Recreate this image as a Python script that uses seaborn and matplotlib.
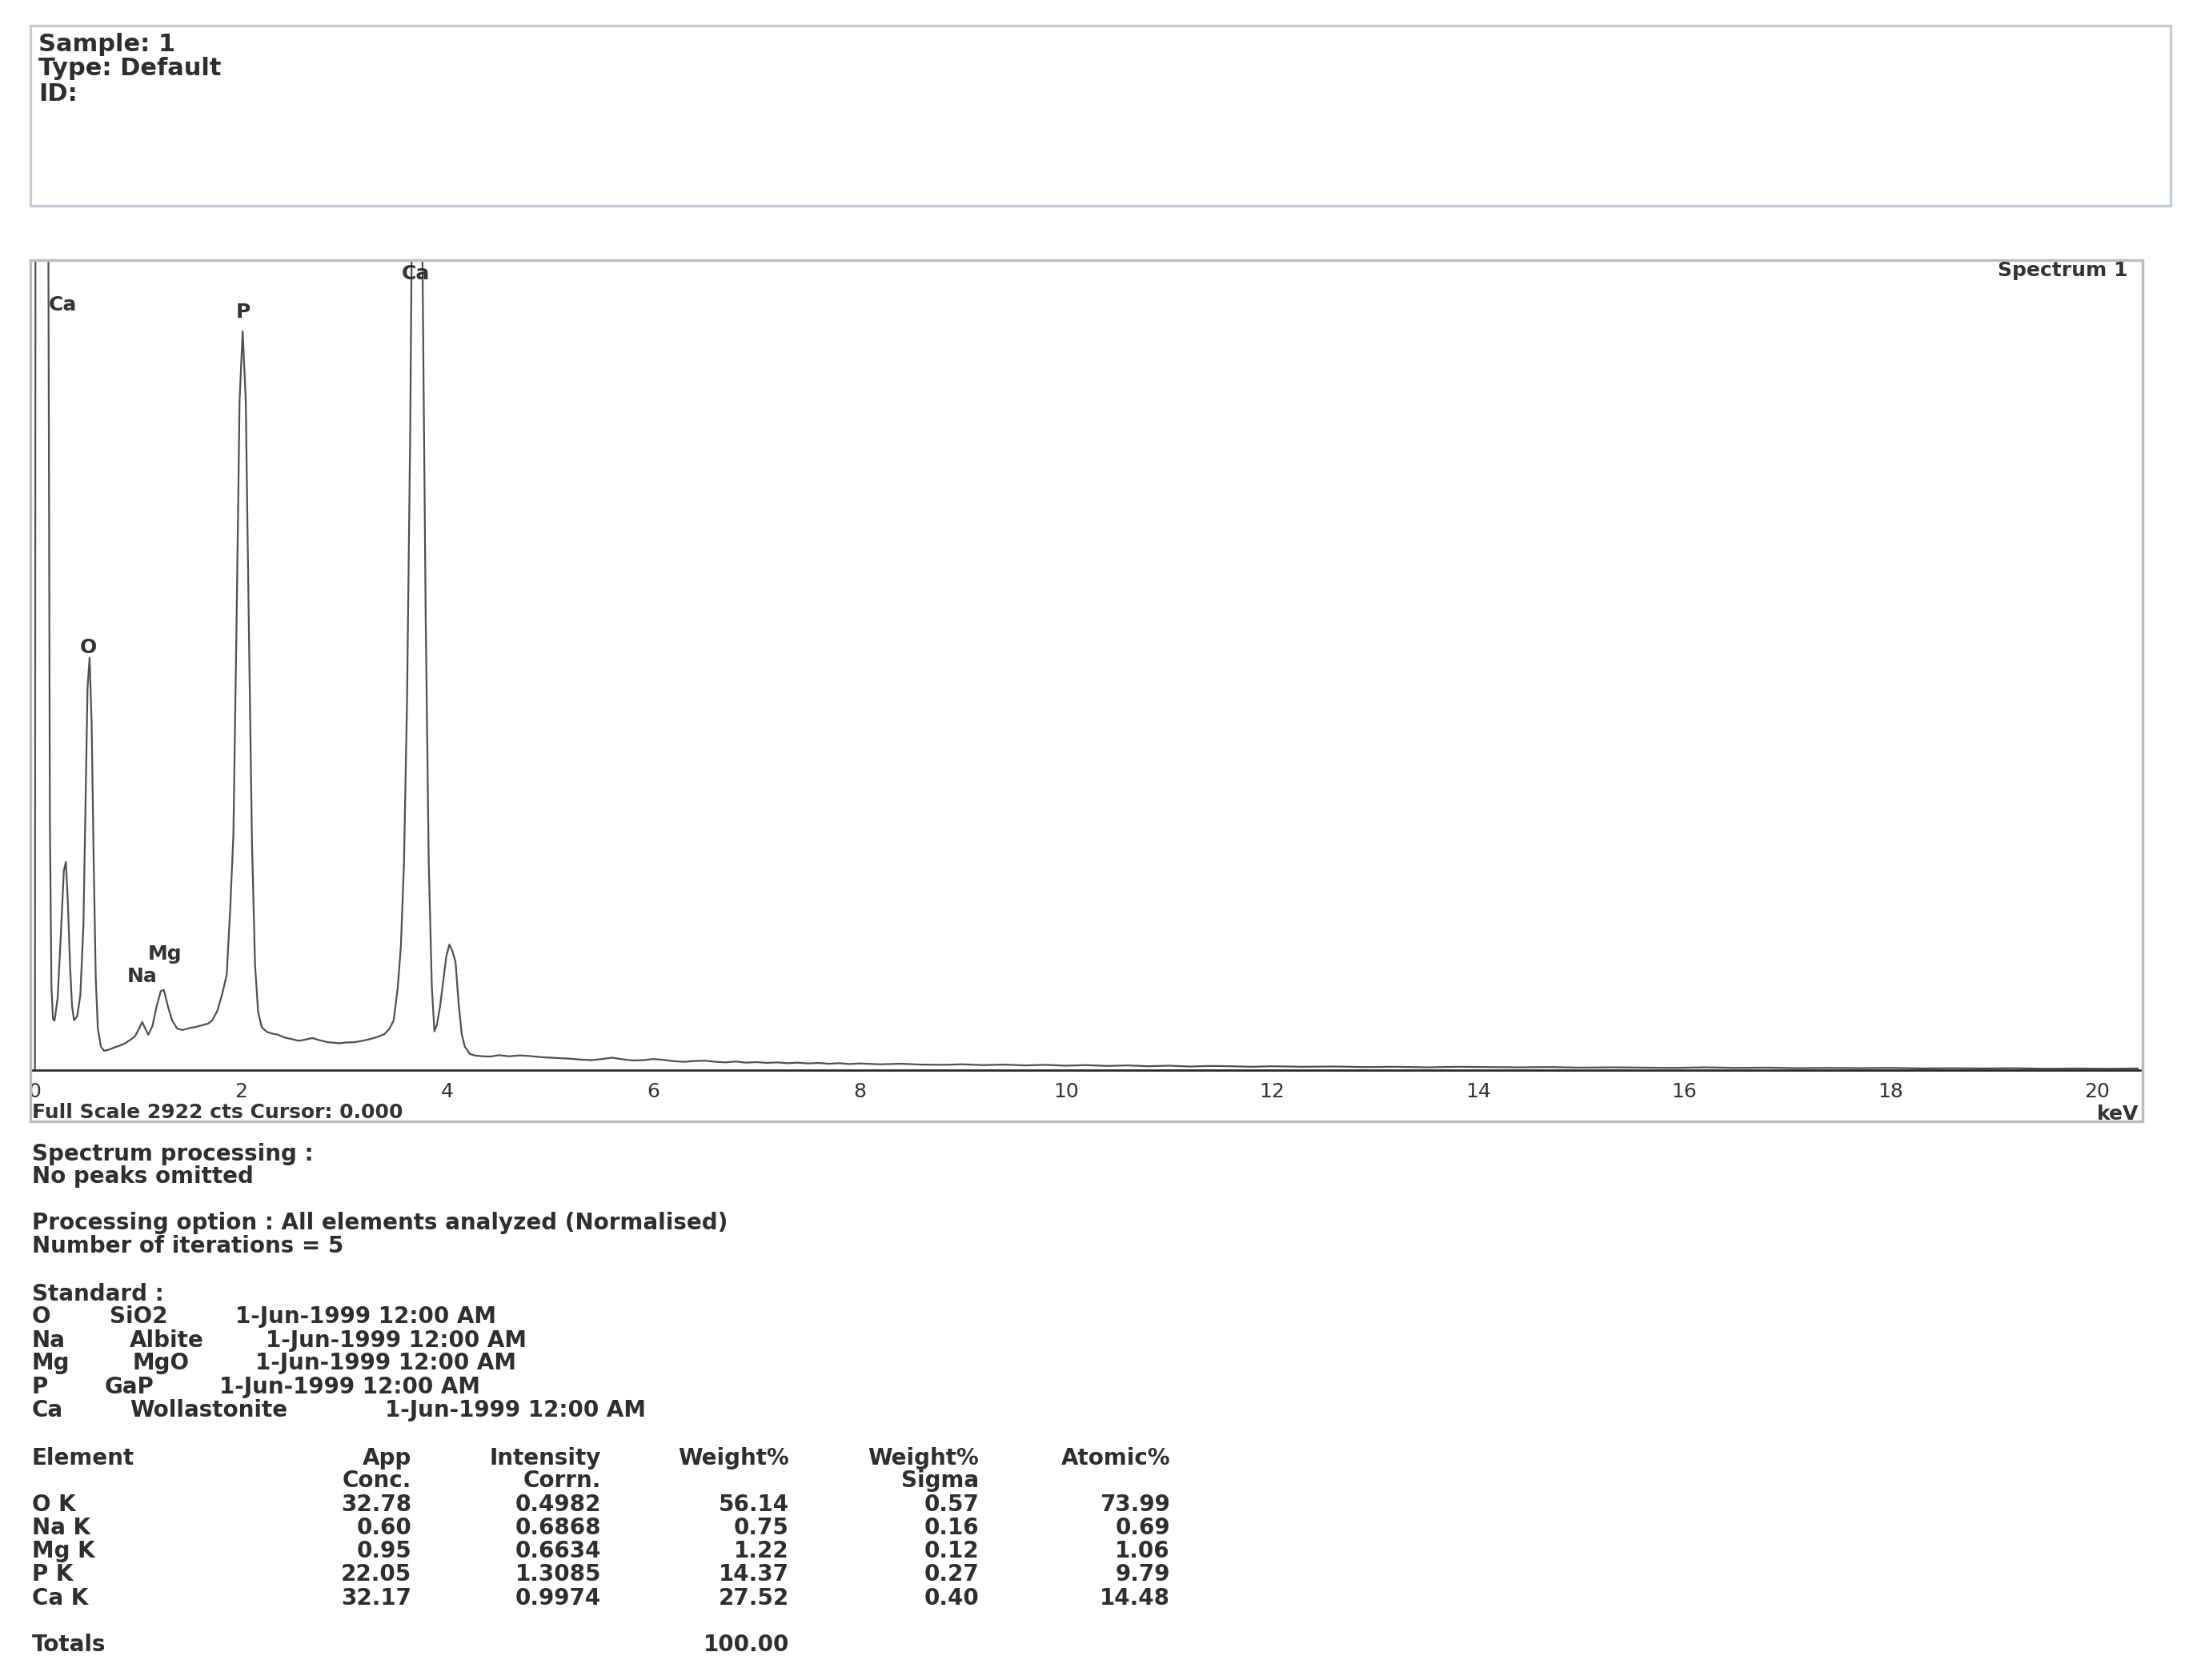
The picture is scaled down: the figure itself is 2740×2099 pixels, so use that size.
import matplotlib
matplotlib.use('Agg')
import matplotlib.pyplot as plt
import seaborn as sns
from matplotlib.patches import Rectangle
from matplotlib.ticker import MultipleLocator

# Spectrum trace: energy (keV) and counts
kev_low = [0.000, 0.010, 0.060, 0.110, 0.130, 0.145, 0.160, 0.175, 0.190, 0.220,
           0.250, 0.280, 0.300, 0.320, 0.340, 0.360, 0.380, 0.410, 0.440, 0.470,
           0.490, 0.510, 0.530, 0.550, 0.570, 0.590, 0.610, 0.640, 0.670, 0.720,
           0.770, 0.820, 0.870, 0.920, 0.970, 1.010, 1.040, 1.070, 1.100, 1.140,
           1.180, 1.220, 1.250, 1.290, 1.330, 1.380, 1.430, 1.500, 1.560, 1.620,
           1.680, 1.720, 1.770, 1.820, 1.860, 1.895, 1.925, 1.955, 1.985, 2.015,
           2.045, 2.075, 2.105, 2.135, 2.165, 2.200, 2.250, 2.300, 2.350, 2.420,
           2.480, 2.560, 2.620, 2.690, 2.760, 2.840, 2.900, 2.950, 3.020, 3.100,
           3.180, 3.260, 3.330, 3.390, 3.440, 3.480, 3.520, 3.550, 3.580, 3.610,
           3.640, 3.670, 3.700, 3.730, 3.760, 3.790, 3.820, 3.850, 3.875, 3.900,
           3.930, 3.960, 3.990, 4.020, 4.050, 4.080, 4.110, 4.140, 4.170, 4.220,
           4.280, 4.350, 4.420]
cts_low = [0, 6000, 9000, 6000, 3000, 900, 300, 185, 178, 260,
           480, 720, 752, 600, 380, 230, 180, 195, 270, 520,
           950, 1380, 1490, 1250, 750, 330, 150, 85, 70, 74,
           82, 88, 96, 108, 122, 150, 174, 150, 128, 160,
           230, 285, 290, 230, 180, 150, 145, 152, 156, 162,
           168, 180, 215, 280, 345, 590, 850, 1600, 2420, 2670,
           2420, 1600, 830, 380, 210, 155, 138, 132, 129, 118,
           113, 106, 110, 116, 108, 101, 99, 97, 100, 101,
           106, 113, 121, 130, 150, 180, 300, 450, 750, 1350,
           2300, 3700, 4700, 4200, 2900, 1650, 750, 300, 140, 165,
           231, 320, 410, 454, 430, 390, 240, 130, 85, 58,
           52, 50, 49]
kev_high = [4.50, 4.60, 4.70, 4.80, 4.90, 5.00, 5.10, 5.20, 5.30, 5.40,
            5.50, 5.60, 5.70, 5.80, 5.90, 6.00, 6.10, 6.20, 6.30, 6.40,
            6.50, 6.60, 6.70, 6.80, 6.90, 7.00, 7.10, 7.20, 7.30, 7.40,
            7.50, 7.60, 7.70, 7.80, 7.90, 8.00, 8.20, 8.40, 8.60, 8.80,
            9.00, 9.20, 9.40, 9.60, 9.80, 10.0, 10.2, 10.4, 10.6, 10.8,
            11.0, 11.2, 11.4, 11.6, 11.8, 12.0, 12.3, 12.6, 12.9, 13.2,
            13.5, 13.8, 14.1, 14.4, 14.7, 15.0, 15.3, 15.6, 15.9, 16.2,
            16.5, 16.8, 17.1, 17.4, 17.7, 18.0, 18.3, 18.6, 18.9, 19.2,
            19.5, 19.8, 20.1, 20.4]
cts_high = [54, 50, 53, 51, 47, 45, 43, 41, 38, 36,
            40, 45, 39, 35, 36, 40, 37, 32, 30, 33,
            34, 30, 28, 31, 27, 29, 26, 28, 25, 27,
            24, 26, 23, 25, 22, 24, 21, 23, 20, 19,
            21, 18, 20, 17, 19, 16, 18, 15, 17, 14,
            16, 13, 15, 14, 12, 14, 12, 13, 11, 12,
            10, 12, 11, 10, 11, 9, 10, 9, 8, 10,
            8, 9, 7, 8, 7, 8, 6, 7, 6, 7,
            5, 6, 5, 6]

# Peak labels
peak_names = ['Ca', 'O', 'Na', 'Mg', 'P', 'Ca']
peak_kev = [0.13, 0.515, 1.04, 1.26, 2.02, 3.69]
peak_cts = [2766, 1527, 339, 420, 2740, 2878]

full_scale = 2922
x_ticks = list(range(0, 21, 2))

header_lines = ['Sample: 1', 'Type: Default', 'ID:']
processing_lines = ['Spectrum processing :', 'No peaks omitted',
                    'Processing option : All elements analyzed (Normalised)',
                    'Number of iterations = 5', 'Standard :']

std_elements = ['O', 'Na', 'Mg', 'P', 'Ca']
std_names = ['SiO2', 'Albite', 'MgO', 'GaP', 'Wollastonite']
std_date = '1-Jun-1999 12:00 AM'

table_elements = ['O K', 'Na K', 'Mg K', 'P K', 'Ca K']
app_conc = [32.78, 0.60, 0.95, 22.05, 32.17]
intensity_corrn = [0.4982, 0.6868, 0.6634, 1.3085, 0.9974]
weight_pct = [56.14, 0.75, 1.22, 14.37, 27.52]
weight_sigma = [0.57, 0.16, 0.12, 0.27, 0.40]
atomic_pct = [73.99, 0.69, 1.06, 9.79, 14.48]
weight_total = 100.00

kev = kev_low + kev_high
cts = cts_low + cts_high

sns.set_theme(style='white')
plt.rcParams['font.family'] = ['DejaVu Sans']

W, H = 2740, 2099
fig = plt.figure(figsize=(W / 100, H / 100), dpi=100)
fig.patch.set_facecolor('white')


def fx(x):
    return x / W


def fy(y):
    return 1 - y / H


txt = '#2e2e2e'
body = 20

# header box
fig.patches.append(Rectangle((fx(38), fy(257)), fx(2712) - fx(38), fy(32) - fy(257),
                             transform=fig.transFigure, fill=False,
                             edgecolor='#c3ccd8', linewidth=2.4))
for i, line in enumerate(header_lines):
    fig.text(fx(48), fy(55 + 31 * i), line, fontsize=22, fontweight='bold',
             color=txt, va='center', ha='left')

# spectrum frame
fig.patches.append(Rectangle((fx(38), fy(1401)), fx(2677) - fx(38), fy(325) - fy(1401),
                             transform=fig.transFigure, fill=False,
                             edgecolor='#bcbcbc', linewidth=2.4))

ax = fig.add_axes([fx(38), fy(1337), fx(2677) - fx(38), fy(325) - fy(1337)])
ax.patch.set_alpha(0)
sns.lineplot(x=kev, y=cts, ax=ax, color='#505050', linewidth=1.6,
             estimator=None, sort=False)
ax.set_xlim(-0.044, 20.445)
ax.set_ylim(0, 2927)
for s in ['top', 'left', 'right']:
    ax.spines[s].set_visible(False)
ax.spines['bottom'].set_color('#2a2a2a')
ax.spines['bottom'].set_linewidth(2.0)
ax.set_xticks(x_ticks)
ax.set_xticklabels([str(t) for t in x_ticks])
ax.xaxis.set_minor_locator(MultipleLocator(0.2))
ax.tick_params(axis='x', which='major', direction='out', length=6, width=2.4,
               color='#222222', labelsize=18, labelcolor='#333333', pad=5)
ax.tick_params(axis='x', which='minor', direction='out', length=4, width=1.4,
               color='#444444')
ax.set_yticks([])
ax.set_xlabel('')
ax.set_ylabel('')

for name, x, y in zip(peak_names, peak_kev, peak_cts):
    ax.text(x, y, name, fontsize=18, fontweight='bold', color='#333333',
            ha='left' if x < 0.2 else 'center', va='center')

fig.text(fx(2658), fy(338), 'Spectrum 1', fontsize=18, fontweight='bold',
         color='#333333', ha='right', va='center')
fig.text(fx(40), fy(1390), f'Full Scale {full_scale} cts Cursor: 0.000',
         fontsize=18, fontweight='bold', color='#333333', ha='left', va='center')
fig.text(fx(2672), fy(1392), 'keV', fontsize=18, fontweight='bold',
         color='#333333', ha='right', va='center')

# processing notes
proc_y = [1442, 1470, 1528, 1557, 1617]
for line, y in zip(processing_lines, proc_y):
    fig.text(fx(40), fy(y), line, fontsize=body, fontweight='bold', color=txt,
             va='center', ha='left')

std_y = [1645, 1675, 1703, 1733, 1762]
std_name_x = [137, 162, 166, 131, 162]
std_date_x = [294, 332, 319, 274, 481]
for el, nm, y, nx, dx in zip(std_elements, std_names, std_y, std_name_x, std_date_x):
    fig.text(fx(40), fy(y), el, fontsize=body, fontweight='bold', color=txt, va='center')
    fig.text(fx(nx), fy(y), nm, fontsize=body, fontweight='bold', color=txt, va='center')
    fig.text(fx(dx), fy(y), std_date, fontsize=body, fontweight='bold', color=txt, va='center')

# results table
col_right = [514, 751, 986, 1223, 1462]
head1 = ['App', 'Intensity', 'Weight%', 'Weight%', 'Atomic%']
head2 = ['Conc.', 'Corrn.', '', 'Sigma', '']
fig.text(fx(40), fy(1822), 'Element', fontsize=body, fontweight='bold', color=txt, va='center')
for xr, h1, h2 in zip(col_right, head1, head2):
    fig.text(fx(xr), fy(1822), h1, fontsize=body, fontweight='bold', color=txt,
             va='center', ha='right')
    if h2:
        fig.text(fx(xr), fy(1850), h2, fontsize=body, fontweight='bold', color=txt,
                 va='center', ha='right')

row_y = [1880, 1909, 1938, 1967, 1997]
for i, y in enumerate(row_y):
    vals = [f'{app_conc[i]:.2f}', f'{intensity_corrn[i]:.4f}', f'{weight_pct[i]:.2f}',
            f'{weight_sigma[i]:.2f}', f'{atomic_pct[i]:.2f}']
    fig.text(fx(40), fy(y), table_elements[i], fontsize=body, fontweight='bold',
             color=txt, va='center')
    for xr, v in zip(col_right, vals):
        fig.text(fx(xr), fy(y), v, fontsize=body, fontweight='bold', color=txt,
                 va='center', ha='right')

fig.text(fx(40), fy(2055), 'Totals', fontsize=body, fontweight='bold', color=txt, va='center')
fig.text(fx(986), fy(2055), f'{weight_total:.2f}', fontsize=body, fontweight='bold',
         color=txt, va='center', ha='right')

fig.savefig('out.png', dpi=100, facecolor='white')
